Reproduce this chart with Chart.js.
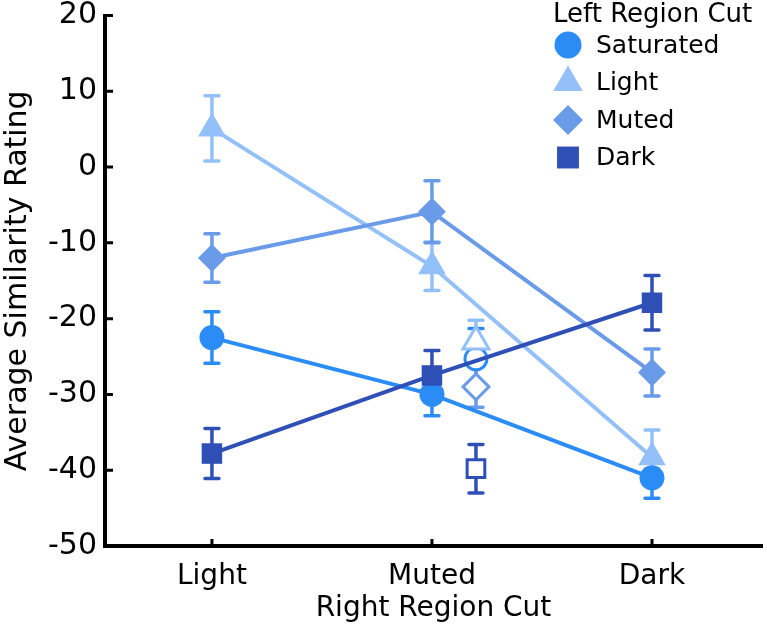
<!DOCTYPE html>
<html><head><meta charset="utf-8">
<script src="https://cdn.jsdelivr.net/npm/chart.js@4.4.1/dist/chart.umd.min.js"></script>
<style>html,body{margin:0;padding:0;background:#fff;} #wrap{width:767px;height:626px;position:relative;}</style>
</head><body><div id="wrap"><canvas id="c" width="767" height="626"></canvas></div>
<script>
// ---- data ----
const categories = ['Light', 'Muted', 'Dark'];
const seriesNames = ['Saturated', 'Light', 'Muted', 'Dark'];
const legendTitle = 'Left Region Cut';
const xTitle = 'Right Region Cut';
const yTitle = 'Average Similarity Rating';
const saturated = [-22.5, -30.0, -41.0];
const saturatedErr = [3.4, 2.8, 2.7];
const light = [5.1, -13.1, -38.3];
const lightErr = [4.3, 3.2, 3.6];
const muted = [-12.0, -5.9, -27.1];
const mutedErr = [3.2, 4.1, 3.1];
const dark = [-37.8, -27.5, -17.9];
const darkErr = [3.3, 3.3, 3.6];
// open markers beside "Muted" (Saturated, Light, Muted, Dark)
const hollowValues = [-25.3, -23.0, -29.0, -39.8];
const hollowErr = [4.0, 2.8, 2.7, 3.2];
const hollowCategory = 1.2;
const yTicks = [20, 10, 0, -10, -20, -30, -40, -50];

// ---- styles ----
const colors = ['#2b8cf6', '#94c0fa', '#6a9be9', '#2e50b6'];
const styles = ['circle', 'triangle', 'rectRot', 'rect'];
const radii = [12.5, 16, 14, 14.5];
const hollowRadii = [11, 15, 13, 12.5];
const FONT = 'DejaVu Sans';

const values = [saturated, light, muted, dark];
const errs = [saturatedErr, lightErr, mutedErr, darkErr];

const datasets = values.map((vals, s) => ({
  label: seriesNames[s],
  data: vals.map((v, i) => ({x: i, y: v})),
  borderColor: colors[s],
  backgroundColor: colors[s],
  borderWidth: 4,
  pointStyle: styles[s],
  pointRadius: radii[s],
  pointBorderWidth: 0,
  pointBackgroundColor: colors[s],
  order: 4 - s,
  clip: false,
  tension: 0
}));
datasets.push({
  label: 'open',
  data: hollowValues.map(v => ({x: hollowCategory, y: v})),
  showLine: false,
  pointStyle: styles.slice(),
  pointRadius: hollowRadii.slice(),
  pointBorderWidth: 3,
  pointBorderColor: colors.slice(),
  pointBackgroundColor: '#ffffff',
  clip: false,
  order: 10
});

const errorBars = {
  id: 'errorBars',
  beforeDatasetsDraw(chart) {
    const ctx = chart.ctx, xs = chart.scales.x, ys = chart.scales.y;
    ctx.save();
    const drawBar = (xv, v, e, col) => {
      const x = xs.getPixelForValue(xv);
      const y1 = ys.getPixelForValue(v + e), y2 = ys.getPixelForValue(v - e);
      ctx.strokeStyle = col; ctx.lineWidth = 3.5; ctx.lineCap = 'butt';
      ctx.beginPath(); ctx.moveTo(x, y1); ctx.lineTo(x, y2); ctx.stroke();
      ctx.lineCap = 'round';
      ctx.beginPath(); ctx.moveTo(x - 7, y1); ctx.lineTo(x + 7, y1);
      ctx.moveTo(x - 7, y2); ctx.lineTo(x + 7, y2); ctx.stroke();
    };
    hollowValues.forEach((v, s) => drawBar(hollowCategory, v, hollowErr[s], colors[s]));
    values.forEach((vals, s) => vals.forEach((v, i) => drawBar(i, v, errs[s][i], colors[s])));
    ctx.restore();
  }
};

const inwardTicks = {
  id: 'inwardTicks',
  afterDraw(chart) {
    const ctx = chart.ctx, xs = chart.scales.x, ys = chart.scales.y, a = chart.chartArea;
    ctx.save();
    ctx.strokeStyle = '#000'; ctx.lineWidth = 3;
    ctx.beginPath();
    yTicks.forEach(t => { const y = ys.getPixelForValue(t); ctx.moveTo(a.left, y); ctx.lineTo(a.left + 8, y); });
    categories.forEach((c, i) => { const x = xs.getPixelForValue(i); ctx.moveTo(x, a.bottom); ctx.lineTo(x, a.bottom - 7); });
    ctx.stroke();
    ctx.restore();
  }
};

const legendBox = {
  id: 'legendBox',
  afterDraw(chart) {
    const ctx = chart.ctx;
    ctx.save();
    ctx.fillStyle = '#000';
    ctx.textBaseline = 'middle';
    ctx.textAlign = 'left';
    ctx.font = '26px "' + FONT + '"';
    ctx.fillText(legendTitle, 553, 15);
    ctx.font = '25px "' + FONT + '"';
    seriesNames.forEach((n, s) => {
      const y = 45 + s * 37.5;
      ctx.fillStyle = colors[s];
      Chart.helpers.drawPoint(ctx, {pointStyle: styles[s], radius: radii[s] + 1, rotation: 0, borderWidth: 0}, 568, y);
      ctx.fillStyle = '#000';
      ctx.fillText(n, 596, y + 1);
    });
    ctx.restore();
  }
};

const zeroPad = sc => { sc.paddingLeft = 0; sc.paddingRight = 0; sc.paddingTop = 0; sc.paddingBottom = 0; };

new Chart(document.getElementById('c'), {
  type: 'line',
  data: {datasets},
  options: {
    responsive: false,
    animation: false,
    layout: {autoPadding: false, padding: {top: 15.5, right: 5, bottom: 0, left: 0}},
    plugins: {legend: {display: false}, tooltip: {enabled: false}},
    scales: {
      x: {
        type: 'linear', min: -0.486, max: 2.5,
        afterBuildTicks: sc => { sc.ticks = categories.map((c, i) => ({value: i})); },
        afterFit: sc => { sc.height = 80; zeroPad(sc); },
        grid: {display: false},
        border: {display: true, color: '#000', width: 4},
        ticks: {color: '#000', font: {family: FONT, size: 28}, padding: 6, maxRotation: 0,
          callback: v => categories[v] ?? ''},
        title: {display: true, text: xTitle, color: '#000', font: {family: FONT, size: 28}, padding: {top: 0, bottom: 0}}
      },
      y: {
        type: 'linear', min: -50, max: 20,
        afterBuildTicks: sc => { sc.ticks = yTicks.map(v => ({value: v})); },
        afterFit: sc => { sc.width = 105; zeroPad(sc); },
        grid: {display: false},
        border: {display: true, color: '#000', width: 4},
        ticks: {color: '#000', font: {family: FONT, size: 30}, padding: 0},
        title: {display: true, text: yTitle, color: '#000', font: {family: FONT, size: 30}, padding: {top: 0, bottom: 0}}
      }
    }
  },
  plugins: [errorBars, inwardTicks, legendBox]
});
</script></body></html>
